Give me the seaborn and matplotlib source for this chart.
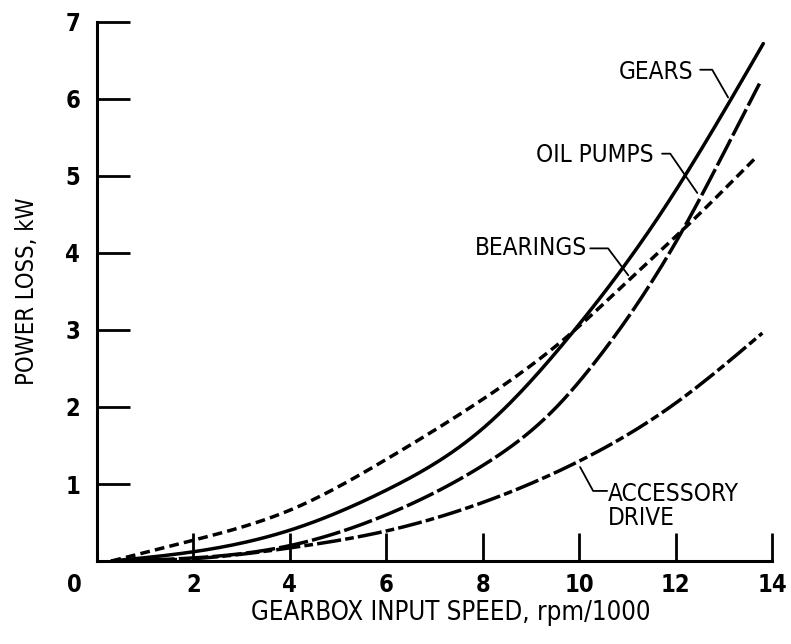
import matplotlib
matplotlib.use("Agg")
import matplotlib.pyplot as plt
import seaborn as sns
import pandas as pd
import numpy as np

# ---- data ----
speed_gears = [0.3, 2, 4, 6, 8, 9.8, 11.7, 13.82]
loss_gears = [0.0, 0.12, 0.40, 0.92, 1.72, 2.92, 4.52, 6.72]

speed_oil = [0.3, 2, 4, 6, 8, 9.5, 10.3, 11.25, 12.15, 13.0, 13.74]
loss_oil = [0.0, 0.04, 0.20, 0.60, 1.24, 1.98, 2.56, 3.38, 4.30, 5.30, 6.20]

speed_bear = [0.3, 2, 4, 6, 8, 9.8, 11.0, 12.2, 13.65]
loss_bear = [0.0, 0.27, 0.66, 1.32, 2.10, 2.94, 3.63, 4.33, 5.23]

speed_acc = [0.3, 2, 4, 6, 8, 9.75, 12.0, 13.8]
loss_acc = [0.0, 0.03, 0.17, 0.39, 0.76, 1.22, 2.05, 2.96]

series_names = ["GEARS", "OIL PUMPS", "BEARINGS", "ACCESSORY DRIVE"]
x_ticks = [2, 4, 6, 8, 10, 12, 14]
y_ticks = [1, 2, 3, 4, 5, 6, 7]
x_label = "GEARBOX INPUT SPEED, rpm/1000"
y_label = "POWER LOSS, kW"


def dense(xs, ys, n=200):
    """Natural cubic spline through the read points (drawing only)."""
    xs = np.asarray(xs, float); ys = np.asarray(ys, float)
    N = len(xs); h = np.diff(xs)
    A = np.zeros((N, N)); b = np.zeros(N)
    A[0, 0] = 1; A[-1, -1] = 1
    for i in range(1, N - 1):
        A[i, i - 1] = h[i - 1]; A[i, i] = 2 * (h[i - 1] + h[i]); A[i, i + 1] = h[i]
        b[i] = 6 * ((ys[i + 1] - ys[i]) / h[i] - (ys[i] - ys[i - 1]) / h[i - 1])
    M = np.linalg.solve(A, b)
    xd = np.linspace(xs[0], xs[-1], n)
    out = []
    for xv in xd:
        i = min(max(np.searchsorted(xs, xv) - 1, 0), N - 2)
        a = xs[i + 1] - xv; c = xv - xs[i]
        out.append(M[i] * a**3 / (6 * h[i]) + M[i + 1] * c**3 / (6 * h[i])
                   + (ys[i] / h[i] - M[i] * h[i] / 6) * a
                   + (ys[i + 1] / h[i] - M[i + 1] * h[i] / 6) * c)
    return xd, np.maximum(np.array(out), 0)


frames = []
for name, xs, ys in zip(series_names,
                        [speed_gears, speed_oil, speed_bear, speed_acc],
                        [loss_gears, loss_oil, loss_bear, loss_acc]):
    xd, yd = dense(xs, ys)
    frames.append(pd.DataFrame({"speed": xd, "loss": yd, "component": name}))
df = pd.concat(frames, ignore_index=True)

sns.set_theme(style="ticks")
plt.rcParams["font.family"] = ["DejaVu Sans"]
plt.rcParams["font.stretch"] = "condensed"
plt.rcParams["text.color"] = "black"
plt.rcParams["axes.labelcolor"] = "black"
plt.rcParams["xtick.color"] = "black"
plt.rcParams["ytick.color"] = "black"

fig = plt.figure(figsize=(7.91, 6.44), dpi=100)
ax = fig.add_axes([97 / 791, 83 / 644, (772 - 97) / 791, (561 - 22) / 644])

dash_map = {
    "GEARS": "",
    "OIL PUMPS": (8.5, 1.2),
    "BEARINGS": (2.8, 1.5),
    "ACCESSORY DRIVE": (7, 1.2, 2.5, 1.2),
}
sns.lineplot(data=df, x="speed", y="loss", style="component", dashes=dash_map,
             color="black", linewidth=2.5, legend=False, ax=ax, sort=False,
             estimator=None)

ax.set_xlim(0, 14)
ax.set_ylim(0, 7)
ax.set_xticks(x_ticks)
ax.set_yticks(y_ticks)
ax.tick_params(axis="x", direction="in", length=20, width=2, labelsize=17, pad=9,
               colors="black")
ax.tick_params(axis="y", direction="in", length=24, width=2, labelsize=17, pad=12,
               colors="black")
for lab in ax.get_xticklabels() + ax.get_yticklabels():
    lab.set_fontweight("bold")
sns.despine(ax=ax)
for s in ["left", "bottom"]:
    ax.spines[s].set_linewidth(2.2)
    ax.spines[s].set_color("black")

ax.set_xlabel(x_label, fontsize=18.5, labelpad=2, color="black")
ax.xaxis.label.set_x(0.524)
ax.set_ylabel(y_label, fontsize=17, labelpad=19, color="black")

# origin label
ax.annotate("0", xy=(0, 0), xytext=(-16, -9), textcoords="offset points",
            ha="center", va="top", fontsize=17, fontweight="bold", color="black")

# series labels with leader lines
labels = [
    ("GEARS", 12.36, 6.35, "right", [(12.51, 6.38), (12.76, 6.38), (13.09, 6.02)]),
    ("OIL PUMPS", 11.54, 5.27, "right", [(11.72, 5.29), (11.89, 5.29), (12.45, 4.78)]),
    ("BEARINGS", 10.17, 4.06, "right", [(10.23, 4.06), (10.60, 4.06), (11.02, 3.71)]),
    ("ACCESSORY\nDRIVE", 10.60, 0.72, "left", [(10.02, 1.22), (10.29, 0.91), (10.58, 0.91)]),
]
for text, tx, ty, ha, pts in labels:
    ax.text(tx, ty, text, ha=ha, va="center", fontsize=17.5, linespacing=1.0,
            color="black")
    px, py = zip(*pts)
    ax.plot(px, py, color="black", linewidth=1.3)

fig.savefig("out.png", dpi=100)
